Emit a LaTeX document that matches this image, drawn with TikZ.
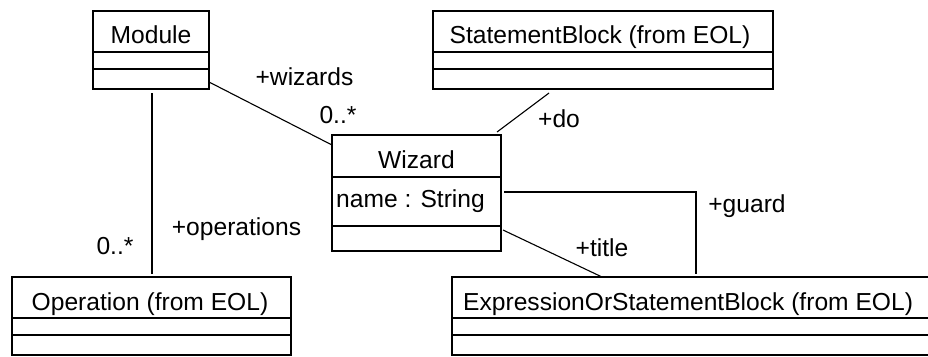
\documentclass[tikz,border=0pt]{standalone}
\usepackage{fontspec}
\setmainfont{Liberation Sans}
\usetikzlibrary{calc}
\begin{document}
\begin{tikzpicture}[x=1pt,y=-1pt,
  classbox/.style={draw,line width=1.3pt,rectangle,inner sep=0pt,outer sep=0pt},
  conn/.style={line width=1.1pt},
  divider/.style={line width=1.3pt},
  txt/.style={font=\fontsize{24.6}{28}\selectfont,inner sep=0pt,anchor=base}]
\fill[white] (0,0) rectangle (928,356);
\useasboundingbox (0,0) rectangle (928,356);
% class boxes
\node[classbox,minimum width=116pt,minimum height=78pt] (module) at (151,50) {};
\node[classbox,minimum width=340pt,minimum height=78pt] (stmt) at (603,50) {};
\node[classbox,minimum width=169pt,minimum height=116pt] (wizard) at (416.5,193) {};
\node[classbox,minimum width=279pt,minimum height=78pt] (operation) at (151.5,316) {};
\node[classbox,minimum width=477pt,minimum height=78pt] (expr) at (690.5,316) {};
% dividers
\foreach \b in {module,stmt,operation,expr}{
  \draw[divider] ($(\b.north west)+(0,41)$) -- ($(\b.north east)+(0,41)$);
  \draw[divider] ($(\b.north west)+(0,58)$) -- ($(\b.north east)+(0,58)$);
}
\draw[divider] ($(wizard.north west)+(0,42)$) -- ($(wizard.north east)+(0,42)$);
\draw[divider] ($(wizard.north west)+(0,91)$) -- ($(wizard.north east)+(0,91)$);
% titles
\node[txt] (tmodule) at (151,43) {Module};
\node[txt] (tstmt) at (600,43) {StatementBlock (from EOL)};
\node[txt] (twizard) at (416.5,168) {Wizard};
\node[txt,anchor=base west] (tattr) at (336,207) {name : String};
\node[txt] (toperation) at (150,310) {Operation (from EOL)};
\node[txt,anchor=base west] (texpr) at (463,310) {ExpressionOrStatementBlock (from EOL)};
% connectors
\draw[conn] ($(module.north east)+(0,71)$) -- ($(wizard.north west)+(0,10)$);
\draw[conn] ($(stmt.south west)+(116,4)$) -- ($(wizard.north east)+(-4,-3)$);
\draw[conn] ($(module.south west)+(59,4)$) -- ($(operation.north west)+(140,-3)$);
\draw[conn] ($(wizard.north east)+(3,57)$) -| ($(expr.north west)+(244,-3)$);
\draw[conn] ($(wizard.north east)+(2,95)$) -- ($(expr.north west)+(150,0)$);
% role labels
\node[txt] (lwizards) at (304.5,85) {+wizards};
\node[txt] (mwizards) at (338,123) {0..*};
\node[txt] (ldo) at (559,127) {+do};
\node[txt] (lops) at (236.5,235) {+operations};
\node[txt] (mops) at (115,254) {0..*};
\node[txt] (lguard) at (747,212) {+guard};
\node[txt] (ltitle) at (602,256) {+title};
\end{tikzpicture}
\end{document}
